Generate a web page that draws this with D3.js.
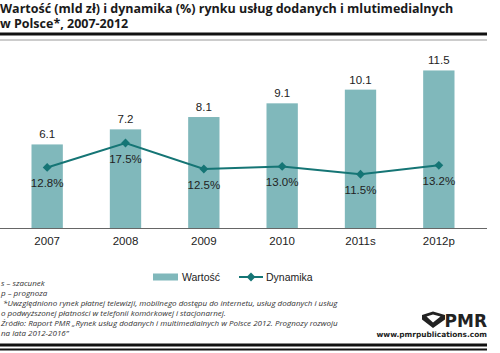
<!DOCTYPE html>
<html>
<head>
<meta charset="utf-8">
<script src="https://cdn.jsdelivr.net/npm/d3@7"></script>
<style>
  body { margin: 0; background: #fff; }
  svg { display: block; }
</style>
</head>
<body>
<svg id="chart" width="500" height="353"></svg>
<script>
// chart values
const years = ["2007", "2008", "2009", "2010", "2011s", "2012p"];
const wartosc = [6.1, 7.2, 8.1, 9.1, 10.1, 11.5];
const dynamika = [12.8, 17.5, 12.5, 13.0, 11.5, 13.2];

const titleLines = [
    "Wartość (mld zł) i dynamika (%) rynku usług dodanych i mlutimedialnych",
    "w Polsce*, 2007-2012"
];
const notes = [
    "s – szacunek",
    "p – prognoza",
    " *Uwzględniono rynek płatnej telewizji, mobilnego dostępu do internetu, usług dodanych i usług",
    "o podwyższonej płatności w telefonii komórkowej i stacjonarnej.",
    "Źródło: Raport PMR „Rynek usług dodanych i multimedialnych w Polsce 2012. Prognozy rozwoju",
    "na lata 2012-2016”"
];

const barColor = "#80b8bb";
const lineColor = "#157575";
const textColor = "#222";

const svg = d3.select("#chart");

// title
svg.append("text")
    .attr("font-family", "Open Sans, sans-serif")
    .attr("font-weight", "bold")
    .attr("font-size", "12.5px")
    .attr("fill", "#1a1a1a")
    .selectAll("tspan")
    .data(titleLines)
    .enter()
    .append("tspan")
    .attr("x", 0)
    .attr("y", (d, i) => 12.5 + i * 15.5)
    .text(d => d);

// header rules
svg.append("rect").attr("x", 0).attr("y", 32.5).attr("width", 487).attr("height", 3).attr("fill", "#111");
svg.append("rect").attr("x", 0).attr("y", 39.5).attr("width", 487).attr("height", 1).attr("fill", "#999");

// scales
const x = d3.scaleBand()
    .domain(years)
    .range([8, 478])
    .paddingInner(0.6)
    .paddingOuter(0.3);

const y = d3.scaleLinear()
    .domain([0, 12])
    .range([228, 228 - 12 * 13.7]);

const y2 = d3.scaleLinear()
    .domain([0, 20])
    .range([234, 234 - 20 * 5.2]);

const cx = d => x(d) + x.bandwidth() / 2;

// bars
svg.selectAll(".bar")
    .data(wartosc)
    .enter()
    .append("rect")
    .attr("class", "bar")
    .attr("x", (d, i) => x(years[i]))
    .attr("y", d => y(d))
    .attr("width", x.bandwidth())
    .attr("height", d => y(0) - y(d))
    .attr("fill", barColor);

// value labels
svg.selectAll(".vlabel")
    .data(wartosc)
    .enter()
    .append("text")
    .attr("class", "vlabel")
    .attr("x", (d, i) => cx(years[i]))
    .attr("y", d => y(d) - 6)
    .attr("text-anchor", "middle")
    .attr("font-family", "Liberation Sans, Arial, sans-serif")
    .attr("font-size", "11.5px")
    .attr("fill", textColor)
    .text(d => d.toFixed(1));

// x axis
const xAxis = d3.axisBottom(x).tickSize(0).tickPadding(9);
const gx = svg.append("g")
    .attr("transform", "translate(0," + y(0) + ")")
    .call(xAxis);
gx.select(".domain").attr("d", "M0,0.5H487").attr("stroke", "#666").attr("stroke-width", 1.2);
gx.selectAll("text")
    .attr("font-family", "Liberation Sans, Arial, sans-serif")
    .attr("font-size", "11.5px")
    .attr("fill", textColor);

// dynamics line
const lineFun = d3.line()
    .x((d, i) => cx(years[i]))
    .y(d => y2(d));

svg.append("path")
    .attr("d", lineFun(dynamika))
    .attr("fill", "none")
    .attr("stroke", lineColor)
    .attr("stroke-width", 2);

const diamond = d3.symbol().type(d3.symbolDiamond2).size(50);

svg.selectAll(".marker")
    .data(dynamika)
    .enter()
    .append("path")
    .attr("class", "marker")
    .attr("transform", (d, i) => "translate(" + cx(years[i]) + "," + y2(d) + ")")
    .attr("d", diamond)
    .attr("fill", lineColor);

svg.selectAll(".plabel")
    .data(dynamika)
    .enter()
    .append("text")
    .attr("class", "plabel")
    .attr("x", (d, i) => cx(years[i]))
    .attr("y", d => y2(d) + 20)
    .attr("text-anchor", "middle")
    .attr("font-family", "Liberation Sans, Arial, sans-serif")
    .attr("font-size", "11.5px")
    .attr("fill", textColor)
    .text(d => d.toFixed(1) + "%");

// legend
const legend = svg.append("g")
    .attr("font-family", "Liberation Sans, Arial, sans-serif")
    .attr("font-size", "10.5px")
    .attr("fill", textColor);
legend.append("rect")
    .attr("x", 153).attr("y", 273.5)
    .attr("width", 25).attr("height", 7)
    .attr("fill", barColor);
legend.append("text").attr("x", 182).attr("y", 281).text("Wartość");
legend.append("line")
    .attr("x1", 239).attr("x2", 263)
    .attr("y1", 277).attr("y2", 277)
    .attr("stroke", lineColor).attr("stroke-width", 2);
legend.append("path")
    .attr("transform", "translate(251,277)")
    .attr("d", diamond)
    .attr("fill", lineColor);
legend.append("text").attr("x", 266).attr("y", 281).text("Dynamika");

// footnotes
svg.append("text")
    .attr("font-family", "Open Sans, sans-serif")
    .attr("font-style", "italic")
    .attr("font-size", "8px")
    .attr("fill", "#333")
    .attr("xml:space", "preserve")
    .selectAll("tspan")
    .data(notes)
    .enter()
    .append("tspan")
    .attr("x", 1)
    .attr("y", (d, i) => 286 + i * 10)
    .text(d => d);

// PMR logo
const logo = svg.append("g");
logo.append("path")
    .attr("d", "M422,315 L433,311.5 L445,315 L445,319.5 L433,328 L422,319.5 Z M426.5,316.5 L433,322.5 L440.5,316.5 L433,314.5 Z")
    .attr("fill", "#222")
    .attr("fill-rule", "evenodd");
logo.append("text")
    .attr("x", 487).attr("y", 326.5)
    .attr("text-anchor", "end")
    .attr("font-family", "DejaVu Sans, sans-serif")
    .attr("font-weight", "bold")
    .attr("font-size", "17px")
    .attr("fill", "#222")
    .text("PMR");
logo.append("text")
    .attr("x", 487).attr("y", 337)
    .attr("text-anchor", "end")
    .attr("font-family", "DejaVu Sans, sans-serif")
    .attr("font-weight", "bold")
    .attr("font-size", "7.4px")
    .attr("fill", "#222")
    .text("www.pmrpublications.com");

// footer rules
svg.append("rect").attr("x", 0).attr("y", 343.5).attr("width", 487).attr("height", 3).attr("fill", "#111");
svg.append("rect").attr("x", 0).attr("y", 348.5).attr("width", 487).attr("height", 2).attr("fill", "#111");
</script>
</body>
</html>
